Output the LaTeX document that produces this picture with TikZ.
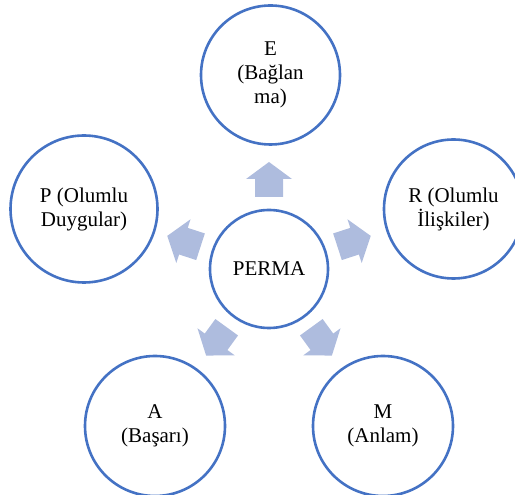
\documentclass[tikz,border=0pt]{standalone}
\usepackage{fontspec}
\setmainfont{Liberation Serif}
\definecolor{ringblue}{RGB}{68,114,196}
\definecolor{arrowfill}{RGB}{174,188,222}
\begin{document}
\begin{tikzpicture}[x=1pt,y=1pt,
  ring/.style={circle,draw=ringblue,line width=2.6pt,fill=white,inner sep=0pt,
    align=center,font=\fontsize{21}{24}\selectfont},
  blockarrow/.style={fill=arrowfill,draw=none}]
\useasboundingbox (0,0) rectangle (515,495);
\clip (0,0) rectangle (515,495);
\node[ring,minimum size=118pt] (C) at (269,226) {PERMA};
\node[ring,minimum size=139pt] (E) at (270.5,420) {E\\(Bağlan\\ma)};
\node[ring,minimum size=139pt] (R) at (453.5,286) {R (Olumlu\\İlişkiler)};
\node[ring,minimum size=147pt] (P) at (84,286) {P (Olumlu\\Duygular)};
\node[ring,minimum size=140pt] (A) at (155,69) {A\\(Başarı)};
\node[ring,minimum size=140pt] (M) at (383,69) {M\\(Anlam)};
\foreach \ang in {90,18,-54,-126,162}{
  \begin{scope}[shift={(C.center)},rotate=\ang,xshift=89.5pt]
    \path[blockarrow] (-17.5,-14) -- (0.5,-14) -- (0.5,-23) -- (17.5,0)
      -- (0.5,23) -- (0.5,14) -- (-17.5,14) -- cycle;
  \end{scope}
}
\end{tikzpicture}
\end{document}
